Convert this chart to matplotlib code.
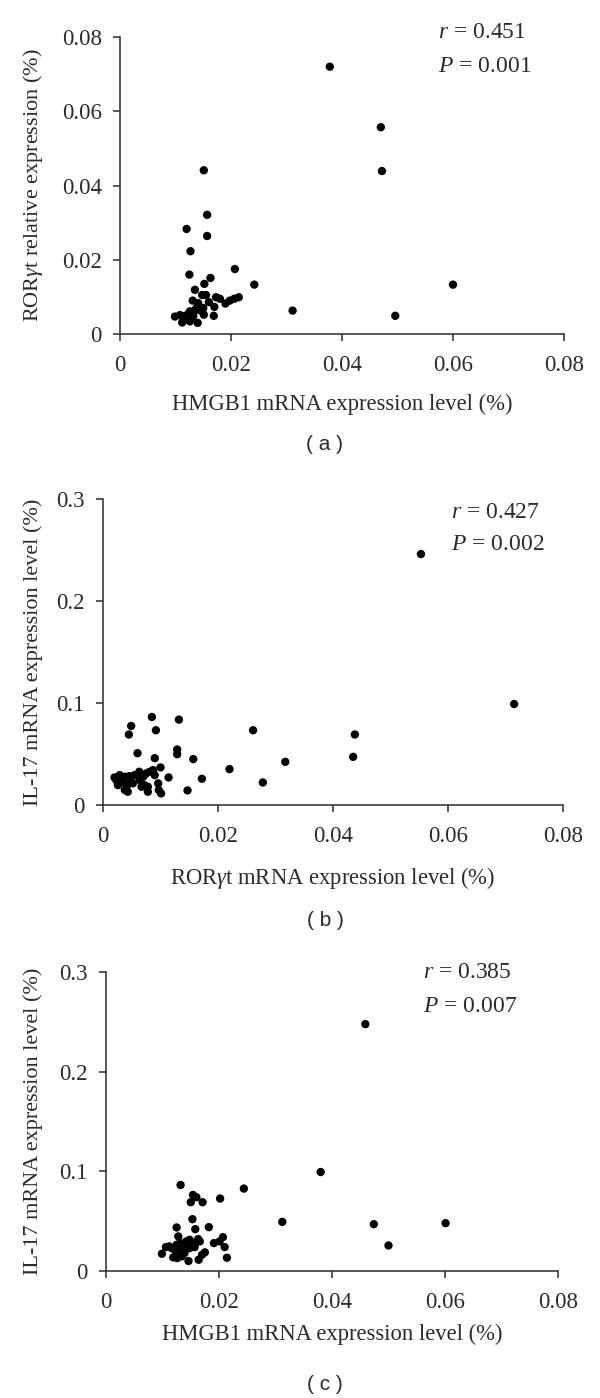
import matplotlib
matplotlib.use("Agg")
import matplotlib.pyplot as plt

plt.rcParams['font.family'] = ['Liberation Serif', 'DejaVu Serif']
plt.rcParams['mathtext.fontset'] = 'custom'
plt.rcParams['mathtext.rm'] = 'Liberation Serif'
plt.rcParams['mathtext.it'] = 'Liberation Serif:italic'

# (a) HMGB1 vs RORgt
a_x = [0.0378, 0.0470, 0.0472, 0.0496, 0.0311, 0.0600, 0.0151, 0.0157, 0.0157, 0.0120, 0.0127, 0.0125,
       0.0207, 0.0242, 0.0163, 0.0152, 0.0135, 0.0148, 0.0155, 0.0131, 0.0173, 0.0180, 0.0141, 0.0160,
       0.0190, 0.0198, 0.0206, 0.0214, 0.0170, 0.0144, 0.0151, 0.0169, 0.0126, 0.0099, 0.0108, 0.0115,
       0.0122, 0.0129, 0.0112, 0.0126, 0.0140, 0.0132, 0.0138, 0.0150, 0.0135, 0.0144, 0.0114, 0.0118]
a_y = [0.0720, 0.0557, 0.0439, 0.0049, 0.0063, 0.0133, 0.0441, 0.0321, 0.0264, 0.0283, 0.0223, 0.0160,
       0.0175, 0.0133, 0.0151, 0.0135, 0.0119, 0.0105, 0.0105, 0.0090, 0.0099, 0.0095, 0.0083, 0.0086,
       0.0082, 0.0090, 0.0095, 0.0099, 0.0073, 0.0070, 0.0052, 0.0049, 0.0061, 0.0047, 0.0051, 0.0048,
       0.0053, 0.0043, 0.0031, 0.0034, 0.0030, 0.0048, 0.0070, 0.0070, 0.0064, 0.0064, 0.0038, 0.0044]

# (b) RORgt vs IL-17
b_x = [0.0553, 0.0715, 0.0438, 0.0435, 0.0317, 0.0261, 0.0220, 0.0278, 0.0172, 0.0147, 0.0157, 0.0129,
       0.0129, 0.0132, 0.0085, 0.0049, 0.0045, 0.0092, 0.0060, 0.0090, 0.0114, 0.0100, 0.0096, 0.0097,
       0.0101, 0.0078, 0.0020, 0.0029, 0.0038, 0.0046, 0.0055, 0.0063, 0.0070, 0.0075, 0.0081, 0.0087,
       0.0026, 0.0038, 0.0035, 0.0052, 0.0064, 0.0072, 0.0078, 0.0090, 0.0067, 0.0049, 0.0023, 0.0041,
       0.0032, 0.0043]
b_y = [0.246, 0.099, 0.0691, 0.0472, 0.0423, 0.0733, 0.0352, 0.0221, 0.0257, 0.0143, 0.0450, 0.0544,
       0.0498, 0.0837, 0.0863, 0.0775, 0.0691, 0.0733, 0.0508, 0.0459, 0.0270, 0.0368, 0.0212, 0.0147,
       0.0114, 0.0130, 0.0270, 0.0293, 0.0277, 0.0283, 0.0293, 0.0326, 0.0277, 0.0309, 0.0326, 0.0342,
       0.0195, 0.0147, 0.0228, 0.0212, 0.0244, 0.0195, 0.0179, 0.0293, 0.0179, 0.0228, 0.0244, 0.0179,
       0.0261, 0.0130]

# (c) HMGB1 vs IL-17
c_x = [0.0459, 0.0380, 0.0474, 0.0500, 0.0601, 0.0312, 0.0244, 0.0202, 0.0132, 0.0154, 0.0160, 0.0150,
       0.0171, 0.0153, 0.0182, 0.0125, 0.0158, 0.0191, 0.0201, 0.0207, 0.0210, 0.0214, 0.0099, 0.0106,
       0.0112, 0.0119, 0.0126, 0.0146, 0.0164, 0.0170, 0.0175, 0.0128, 0.0163, 0.0148, 0.0131, 0.0136,
       0.0142, 0.0154, 0.0122, 0.0131, 0.0139, 0.0148, 0.0157, 0.0166, 0.0125, 0.0134, 0.0116]
c_y = [0.2477, 0.0993, 0.0470, 0.0256, 0.0480, 0.0493, 0.0827, 0.0727, 0.0863, 0.0763, 0.0740, 0.0690,
       0.0690, 0.0520, 0.0440, 0.0437, 0.0420, 0.0280, 0.0297, 0.0340, 0.0240, 0.0133, 0.0173, 0.0240,
       0.0247, 0.0137, 0.0130, 0.0100, 0.0113, 0.0163, 0.0187, 0.0347, 0.0320, 0.0313, 0.0280, 0.0247,
       0.0297, 0.0280, 0.0213, 0.0197, 0.0180, 0.0230, 0.0240, 0.0297, 0.0263, 0.0147, 0.0230]

W, H = 600, 1398
fig = plt.figure(figsize=(W / 100, H / 100), dpi=100)
ink = '#2b2b2b'

panels = [
    # data, axes box in pixels (left, right, top, bottom), y ticks, labels, stats
    (a_x, a_y, (120, 564, 37, 334), [0, 0.02, 0.04, 0.06, 0.08], ['0', '0.02', '0.04', '0.06', '0.08'],
     'HMGB1 mRNA expression level (%)', 'ROR$\\gamma$t relative expression (%)',
     '$r$ = 0.451', '$P$ = 0.001', 438, 32, 66, 13, 444, '( a )'),
    (b_x, b_y, (103, 563, 499, 805), [0, 0.1, 0.2, 0.3], ['0', '0.1', '0.2', '0.3'],
     'ROR$\\gamma$t mRNA expression level (%)', 'IL-17 mRNA expression level (%)',
     '$r$ = 0.427', '$P$ = 0.002', 451, 513, 545, 13, 920, '( b )'),
    (c_x, c_y, (106, 558, 972, 1271), [0, 0.1, 0.2, 0.3], ['0', '0.1', '0.2', '0.3'],
     'HMGB1 mRNA expression level (%)', 'IL-17 mRNA expression level (%)',
     '$r$ = 0.385', '$P$ = 0.007', 423, 972, 1006, 8, 1384, '( c )'),
]

for (xs, ys, box, yt, ytl, xlab, ylab, rtxt, ptxt, tx, ry, py, lpad, capy, cap) in panels:
    l, r, t, b = box
    ax = fig.add_axes([l / W, 1 - b / H, (r - l) / W, (b - t) / H])
    ax.scatter(xs, ys, s=36, color='black', edgecolors='none', zorder=3, clip_on=False)
    ax.set_xlim(0, 0.08)
    ax.set_ylim(0, yt[-1])
    ax.set_xticks([0, 0.02, 0.04, 0.06, 0.08])
    ax.set_xticklabels(['0', '0.02', '0.04', '0.06', '0.08'])
    ax.set_yticks(yt)
    ax.set_yticklabels(ytl)
    for s in ['top', 'right']:
        ax.spines[s].set_visible(False)
    for s in ['left', 'bottom']:
        ax.spines[s].set_color(ink)
        ax.spines[s].set_linewidth(1.1)
    ax.tick_params(direction='out', length=5, width=1.1, color=ink, labelcolor=ink,
                   labelsize=16.5)
    ax.tick_params(axis='x', pad=10)
    ax.tick_params(axis='y', pad=8)
    ax.set_xlabel(xlab, fontsize=16.3, color=ink, labelpad=lpad)
    ax.set_ylabel(ylab, fontsize=16, color=ink, va='center')
    ax.yaxis.set_label_coords((33 - l) / (r - l), 0.5)
    fig.text(tx / W, 1 - ry / H, rtxt, fontsize=17, color=ink, ha='left', va='center')
    fig.text(tx / W, 1 - py / H, ptxt, fontsize=17, color=ink, ha='left', va='center')
    fig.text(325 / W, 1 - capy / H, cap, fontsize=15, color=ink, ha='center', va='center',
             family='Liberation Sans')

fig.savefig('out.png', dpi=100)
